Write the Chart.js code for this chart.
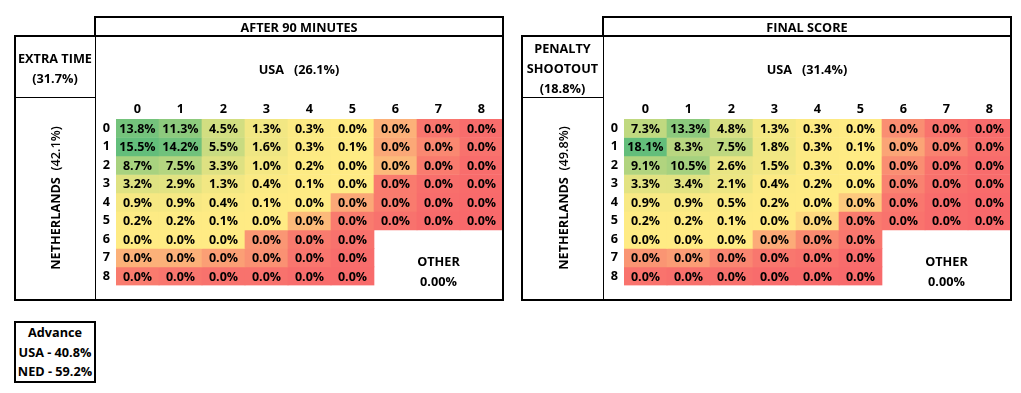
<!doctype html>
<html>
<head>
<title>USA v Netherlands</title>
<script src="https://cdn.jsdelivr.net/npm/chart.js@4.4.0/dist/chart.umd.min.js"></script>
<style>
  body { margin: 0; background: #fff; font-family: 'Open Sans', 'Noto Sans', sans-serif; font-weight: bold; font-size: 12.7px; color: #000; }
  .box { position: absolute; border: 2px solid #000; box-sizing: border-box; }
  .line { position: absolute; background: #000; }
  .txt { position: absolute; text-align: center; line-height: 20px; white-space: pre; }
  canvas { position: absolute; }
</style>
</head>
<body>
<script>
// goals scored (columns = USA, rows = Netherlands)
const goals = ['0', '1', '2', '3', '4', '5', '6', '7', '8'];

// after 90 minutes, in %; null = the "other" corner. Small zeros are estimated from the cell shade
const after90 = [
  [13.8, 11.3, 4.5, 1.3, 0.3, 0.045, 0.016, 0.003, 0.001],
  [15.5, 14.2, 5.5, 1.6, 0.3, 0.1, 0.014, 0.007, 0.002],
  [8.7, 7.5, 3.3, 1.0, 0.2, 0.04, 0.018, 0.004, 0.001],
  [3.2, 2.9, 1.3, 0.4, 0.1, 0.04, 0.004, 0.0015, 0.0005],
  [0.9, 0.9, 0.4, 0.1, 0.04, 0.014, 0.004, 0.001, 0.0003],
  [0.2, 0.2, 0.1, 0.04, 0.018, 0.004, 0.002, 0.0005, 0.0001],
  [0.04, 0.04, 0.04, 0.01, 0.004, 0.002, null, null, null],
  [0.016, 0.016, 0.012, 0.009, 0.003, 0.001, null, null, null],
  [0.004, 0.003, 0.002, 0.002, 0.001, 0.0005, null, null, null]
];

// final score, in %
const finalScore = [
  [7.3, 13.3, 4.8, 1.3, 0.3, 0.04, 0.01, 0.003, 0.001],
  [18.1, 8.3, 7.5, 1.8, 0.3, 0.1, 0.016, 0.007, 0.002],
  [9.1, 10.5, 2.6, 1.5, 0.3, 0.04, 0.01, 0.003, 0.001],
  [3.3, 3.4, 2.1, 0.4, 0.2, 0.04, 0.007, 0.002, 0.0007],
  [0.9, 0.9, 0.5, 0.2, 0.04, 0.026, 0.004, 0.001, 0.0003],
  [0.2, 0.2, 0.1, 0.04, 0.03, 0.005, 0.003, 0.001, 0.0002],
  [0.04, 0.04, 0.04, 0.018, 0.009, 0.004, null, null, null],
  [0.012, 0.014, 0.008, 0.004, 0.003, 0.001, null, null, null],
  [0.003, 0.002, 0.002, 0.001, 0.001, 0.0005, null, null, null]
];

const advance = ['Advance', 'USA - 40.8%', 'NED - 59.2%'];

const FONT = "'Open Sans', 'Noto Sans', sans-serif";

// excel style red-yellow-green scale
const RED = [248, 105, 107], YEL = [255, 235, 132], GRN = [99, 190, 123];
function mix(a, b, t) {
  t = Math.max(0, Math.min(1, t));
  return 'rgb(' + a.map((c, i) => Math.round(c + (b[i] - c) * t)).join(',') + ')';
}
function colourScale(rows) {
  const all = rows.flat().filter(v => v !== null).sort((a, b) => a - b);
  const lo = all[0], hi = all[all.length - 1];
  const k = (all.length - 1) / 2;
  const mid = all[Math.floor(k)] + (all[Math.ceil(k)] - all[Math.floor(k)]) * (k - Math.floor(k));
  return v => v <= mid ? mix(RED, YEL, (v - lo) / (mid - lo)) : mix(YEL, GRN, (v - mid) / (hi - mid));
}

const cellLabels = {
  id: 'cellLabels',
  afterDatasetsDraw(chart) {
    const ctx = chart.ctx;
    ctx.save();
    ctx.font = 'bold 12.5px ' + FONT;
    ctx.fillStyle = '#000';
    ctx.textAlign = 'center';
    ctx.textBaseline = 'middle';
    chart.data.datasets.forEach((ds, i) => {
      chart.getDatasetMeta(i).data.forEach((bar, j) => {
        const v = ds.values[j];
        if (v === null) return;
        const p = bar.getProps(['x', 'y', 'base'], true);
        ctx.fillText(v.toFixed(1) + '%', p.x, (p.y + p.base) / 2 + 1);
      });
    });
    ctx.restore();
  }
};

function el(cls, x, y, w, h, text, extra) {
  const d = document.createElement('div');
  d.className = cls;
  d.style.left = x + 'px'; d.style.top = y + 'px';
  if (w !== null) d.style.width = w + 'px';
  if (h !== null) d.style.height = h + 'px';
  if (text) d.innerHTML = text;
  if (extra) Object.assign(d.style, extra);
  document.body.appendChild(d);
  return d;
}

function panel(x0, labelW, title, sideText, teamTop, teamSide, teamSidePct, rows) {
  const right = x0 + labelW + 21 + 387;
  const colour = colourScale(rows);

  const cv = document.createElement('canvas');
  cv.width = 408; cv.height = 201;
  cv.style.left = (x0 + labelW) + 'px'; cv.style.top = '98px';
  document.body.appendChild(cv);

  const tickFont = { family: FONT, weight: 'bold', size: 12.7 };
  new Chart(cv, {
    type: 'bar',
    data: {
      labels: goals,
      datasets: rows.map(r => ({
        data: r.map(v => v === null ? null : 1),
        values: r,
        backgroundColor: r.map(v => v === null ? '#fff' : colour(v)),
        borderWidth: 0,
        barPercentage: 1,
        categoryPercentage: 1
      }))
    },
    options: {
      responsive: false,
      animation: false,
      events: [],
      plugins: { legend: { display: false }, tooltip: { enabled: false } },
      scales: {
        x: {
          position: 'top', stacked: true, offset: true,
          grid: { display: false, drawTicks: false }, border: { display: false },
          ticks: { color: '#000', font: tickFont, padding: 2, maxRotation: 0, autoSkip: false },
          afterFit(s) { s.height = 21; }
        },
        y: { type: 'linear', min: 0, max: 9, reverse: true, stacked: true, display: false },
        rows: {
          type: 'category', labels: goals, position: 'left', offset: true,
          grid: { display: false, drawTicks: false }, border: { display: false },
          ticks: { color: '#000', font: tickFont, padding: 6, autoSkip: false },
          afterFit(s) { s.width = 21; }
        }
      }
    },
    plugins: [cellLabels]
  });

  // frames
  el('box', x0 + labelW - 1, 16, right - x0 - labelW + 2, 21);
  el('box', x0 - 1, 35, right - x0 + 2, 266);
  el('line', x0 + labelW, 36, 1, 264);
  el('line', x0, 97, labelW, 1);

  // texts
  el('txt', x0 + labelW, 17, right - x0 - labelW, 20, title);
  const n = sideText.length;
  el('txt', x0, 68 - n * 10, labelW, null, sideText.join('<br>'));
  el('txt', x0 + labelW, 59, right - x0 - labelW, 20, teamTop);
  el('txt', x0 + labelW / 2 - 100, 188, 200, 20,
     teamSide + '  <span style="font-weight:600">' + teamSidePct + '</span>',
     { transform: 'rotate(-90deg)' });
  const cx = x0 + labelW + 21 + 6 * 43;
  el('txt', cx, 251, 129, null, 'OTHER<br>0.00%');
}

panel(15, 80, 'AFTER 90 MINUTES', ['EXTRA TIME', '(31.7%)'], 'USA   (26.1%)', 'NETHERLANDS', '(42.1%)', after90);
panel(522, 81, 'FINAL SCORE', ['PENALTY', 'SHOOTOUT', '(18.8%)'], 'USA   (31.4%)', 'NETHERLANDS', '(49.8%)', finalScore);

el('box', 14, 321, 82, 62);
el('txt', 15, 323, 80, null, advance.join('<br>'), { lineHeight: '19.5px' });
</script>
</body>
</html>
